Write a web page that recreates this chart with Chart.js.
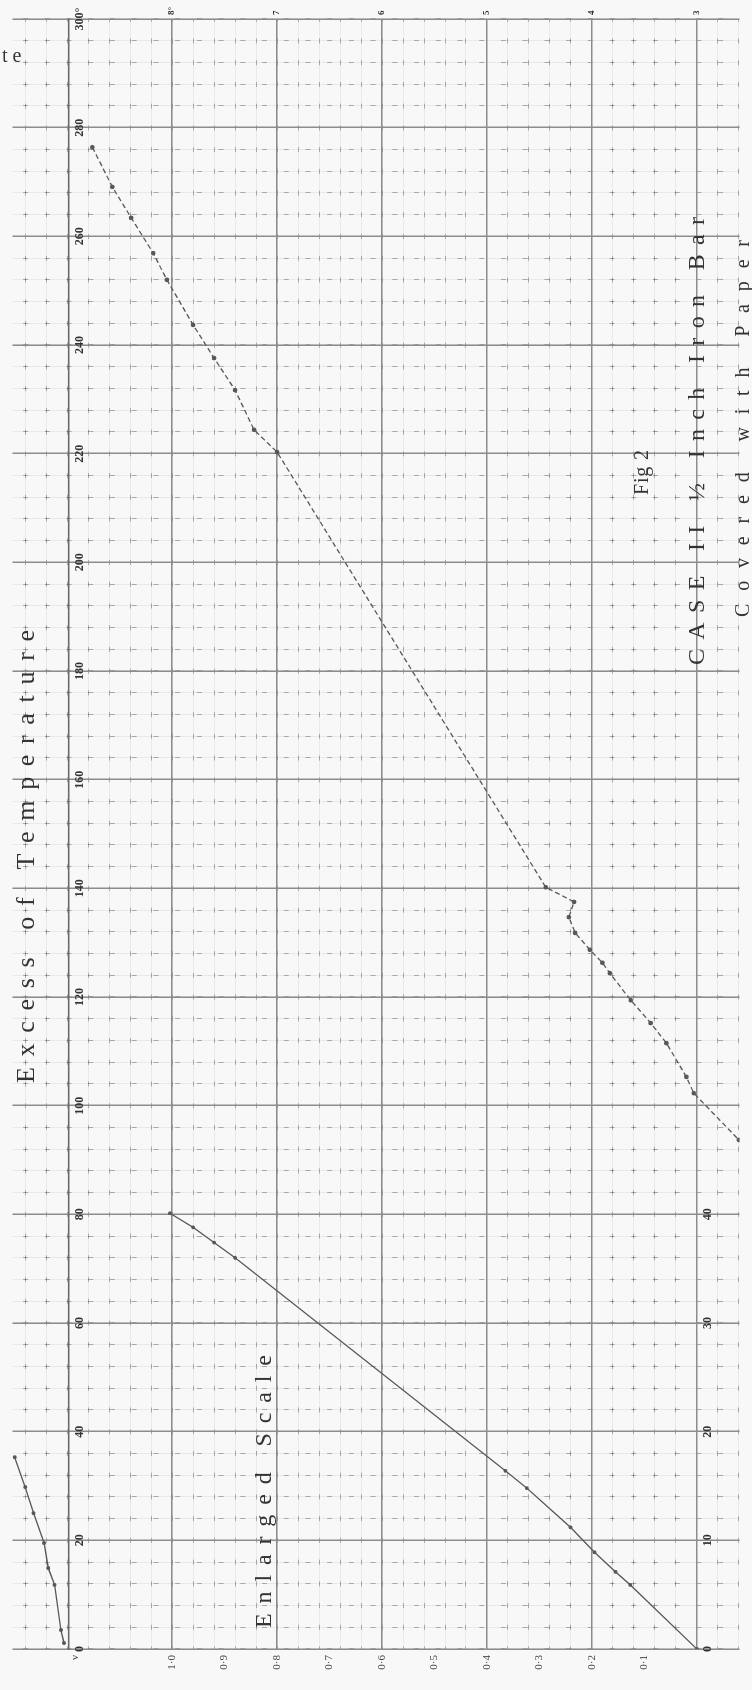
<!DOCTYPE html>
<html><head><meta charset="utf-8">
<script src="https://cdn.jsdelivr.net/npm/chart.js@4"></script>
<style>
html,body{margin:0;padding:0;background:#f8f8f8;width:752px;height:1690px;overflow:hidden;}
#rot{position:absolute;left:0;top:0;width:1690px;height:752px;transform-origin:0 0;transform:translate(0,1690px) rotate(-90deg);}
canvas{display:block;}
</style></head><body>
<div id="rot"><canvas id="c" width="1690" height="752"></canvas></div>
<script>
// ---- tick labels ----
const tempTicks = [0,20,40,60,80,100,120,140,160,180,200,220,240,260,280,300];
const nuTicks = [0.1,0.2,0.3,0.4,0.5,0.6,0.7,0.8,0.9,1.0];
const nuTickLabels = ['0·1','0·2','0·3','0·4','0·5','0·6','0·7','0·8','0·9','1·0'];
const mainScaleTicks = [3,4,5,6,7,8];
const mainScaleLabels = ['3','4','5','6','7','8°'];
const enlargedTempTicks = [0,10,20,30,40];

// ---- main curve (excess of temperature, main scale) ----
const mainTemp = [276.4,269.1,263.4,256.9,252.0,243.7,237.6,231.7,224.4,220.3,140.2,137.5,134.7,131.8,128.7,126.3,124.4,119.4,115.2,111.5,105.3,102.3,93.7];
const mainVal  = [8.76,8.57,8.39,8.18,8.05,7.80,7.60,7.40,7.22,7.00,4.44,4.17,4.22,4.16,4.02,3.90,3.83,3.63,3.44,3.29,3.10,3.03,2.60];

// ---- enlarged scale curve (temperature on enlarged scale, rate) ----
const enlTemp = [0,5.9,7.1,8.9,11.2,14.8,16.4,36.0,37.4,38.8,40.1];
const enlVal  = [0,0.127,0.155,0.195,0.241,0.324,0.365,0.88,0.92,0.96,1.004];

// ---- low-temperature curve near the axis (main scale) ----
const lowTemp = [1.1,3.5,11.8,14.9,19.5,25.0,29.8,35.3];
const lowVal  = [9.03,9.06,9.12,9.18,9.22,9.32,9.40,9.50];

const NU_MIN = -0.081, NU_MAX = 1.304;
const AXIS_NU = 1.197;
const S_MIN = 3 + 5*NU_MIN, S_MAX = 3 + 5*NU_MAX;

const pts = (xs, ys) => xs.map((x,i)=>({x, y: ys[i]}));
const ink = '#585858';
const serif = '"Liberation Serif"';

function spaced(g, text, x0, x1, y){
  const chars = [...text];
  const widths = chars.map(ch => g.measureText(ch).width);
  const total = widths.reduce((a,b)=>a+b,0);
  const gap = chars.length>1 ? (x1-x0-total)/(chars.length-1) : 0;
  let x = x0;
  chars.forEach((ch,i)=>{ g.fillText(ch, x, y); x += widths[i] + gap; });
}

const bg = { id:'bg', beforeDraw(c){ const g=c.ctx; g.save(); g.fillStyle='#f8f8f8'; g.fillRect(0,0,c.width,c.height); g.restore(); } };
const texts = { id:'texts', afterDraw(c){
  const g=c.ctx; g.save(); g.fillStyle='#333'; g.textBaseline='alphabetic'; g.textAlign='left';
  g.font='26px ' + serif;
  spaced(g, 'Excess of Temperature', 607, 1060, 34);
  g.font='24px ' + serif;
  spaced(g, 'Enlarged Scale', 62, 335, 271);
  g.font='20px ' + serif;
  spaced(g, 'Fig 2', 1195, 1240, 648);
  g.font='24px ' + serif;
  spaced(g, 'CASE II ½ Inch Iron Bar', 1025, 1473, 704);
  g.font='20px ' + serif;
  spaced(g, 'Covered with Paper', 1073, 1450, 749);
  // upright fragment in the top-left corner
  g.save(); g.translate(1628, 2); g.rotate(Math.PI/2);
  g.font='20px ' + serif; g.fillText('t e', 0, 0);
  g.restore();
  g.restore();
}};

const fixedTicks = (vals) => (s) => { s.ticks = vals.map(v=>({value:v})); };
const fineNu = (s) => { const t=[]; for(let i=-2;i<=32;i++) t.push({value:i*0.04}); s.ticks=t; };

new Chart(document.getElementById('c'), {
  type: 'scatter',
  data: { datasets: [
    { label:'main', data: pts(mainTemp, mainVal), xAxisID:'x', yAxisID:'y2', showLine:true,
      borderColor: ink, borderWidth: 1.3, borderDash:[5,3], pointRadius:1.7, pointBackgroundColor: ink, pointBorderColor: ink },
    { label:'enlarged', data: pts(enlTemp, enlVal), xAxisID:'x2', yAxisID:'y', showLine:true,
      borderColor: ink, borderWidth: 1.3, pointRadius:1.3, pointBackgroundColor: ink, pointBorderColor: ink },
    { label:'low', data: pts(lowTemp, lowVal), xAxisID:'x', yAxisID:'y2', showLine:true,
      borderColor: ink, borderWidth: 1.4, pointRadius:1.3, pointBackgroundColor: ink, pointBorderColor: ink }
  ]},
  options: {
    responsive:false, animation:false, devicePixelRatio:1,
    layout:{ padding:0 },
    plugins:{ legend:{display:false}, tooltip:{enabled:false} },
    scales: {
      xFineA: { type:'linear', min:0, max:300, position:{y:0},
        ticks:{display:false, stepSize:4}, grid:{color:'rgba(0,0,0,0.06)', lineWidth:1, drawTicks:false}, border:{display:false} },
      yFineA: { type:'linear', min:NU_MIN, max:NU_MAX, position:{x:0}, afterBuildTicks:fineNu,
        ticks:{display:false}, grid:{color:'rgba(0,0,0,0.06)', lineWidth:1, drawTicks:false}, border:{display:false} },
      xFineB: { type:'linear', min:0, max:300, position:{y:0},
        ticks:{display:false, stepSize:4}, grid:{color:'rgba(0,0,0,0.28)', lineWidth:1, drawTicks:false}, border:{display:false, dash:[5,16.72], dashOffset:11.22} },
      yFineB: { type:'linear', min:NU_MIN, max:NU_MAX, position:{x:0}, afterBuildTicks:fineNu,
        ticks:{display:false}, grid:{color:'rgba(0,0,0,0.28)', lineWidth:1, drawTicks:false}, border:{display:false, dash:[5,16.73], dashOffset:2.5} },
      yMajor: { type:'linear', min:NU_MIN, max:NU_MAX, position:{x:0},
        afterBuildTicks:fixedTicks([0,0.2,0.4,0.6,0.8,1.0]),
        ticks:{display:false}, grid:{color:'#8c8c8c', lineWidth:1.5, drawTicks:false}, border:{display:false} },
      x: { type:'linear', min:0, max:300, position:{y:AXIS_NU},
        afterBuildTicks:fixedTicks(tempTicks),
        ticks:{ callback:(v)=> v===300 ? '300°' : String(v), font:{family:serif, size:12, weight:'bold'}, color:'#333', padding:4, maxRotation:0, autoSkip:false },
        grid:{ color:'#8c8c8c', lineWidth:1.5, drawTicks:false }, border:{ display:true, color:'#6a6a6a', width:1.6 } },
      x2: { type:'linear', min:0, max:150, position:{y:0},
        afterBuildTicks:fixedTicks(enlargedTempTicks),
        ticks:{ font:{family:serif, size:12, weight:'bold'}, color:'#333', padding:4, maxRotation:0, autoSkip:false },
        grid:{ display:false, drawTicks:false }, border:{ display:false } },
      y: { type:'linear', min:NU_MIN, max:NU_MAX, position:'left',
        afterBuildTicks:(s)=>{ s.ticks = nuTicks.map(v=>({value:v})).concat([{value:1.184}]); },
        afterFit:(s)=>{ s.width = 41; },
        ticks:{ callback:(v)=>{ const i = nuTicks.findIndex(t=>Math.abs(t-v)<1e-6); return i>=0 ? nuTickLabels[i] : 'ν'; },
          font:{family:serif, size:11}, color:'#444', padding:6, autoSkip:false },
        grid:{ display:false, drawTicks:false }, border:{ display:false } },
      y2: { type:'linear', min:S_MIN, max:S_MAX, position:'right',
        afterBuildTicks:fixedTicks(mainScaleTicks),
        afterFit:(s)=>{ s.width = 19; },
        ticks:{ callback:(v)=> mainScaleLabels[mainScaleTicks.indexOf(v)] ?? '', font:{family:serif, size:9, weight:'bold'}, color:'#333', padding:4, autoSkip:false },
        grid:{ display:false, drawTicks:false }, border:{ display:false } }
    }
  },
  plugins:[bg, texts]
});
</script>
</body></html>
